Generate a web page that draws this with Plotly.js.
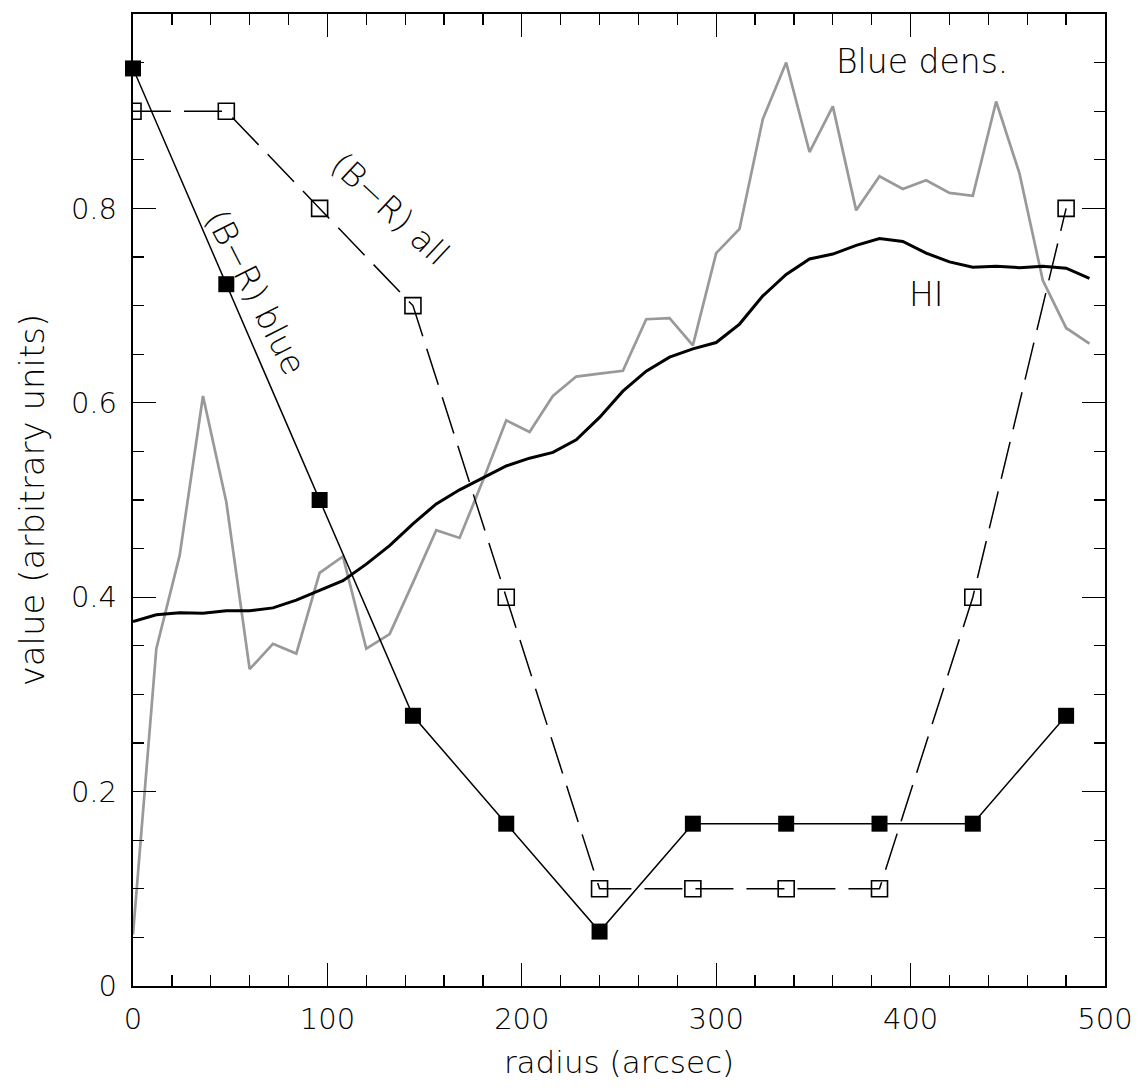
<!DOCTYPE html>
<html>
<head>
<meta charset="utf-8">
<script src="https://cdn.plot.ly/plotly-3.0.1.min.js"></script>
<style>html,body{margin:0;padding:0;background:#fff;}#chart{width:1146px;height:1090px;}</style>
</head>
<body>
<div id="chart"></div>
<script>
// (B-R) colour profiles, sampled every 48 arcsec
const radiusBR = [0, 48, 96, 144, 192, 240, 288, 336, 384, 432, 480];
const brBlue = [0.944, 0.722, 0.5, 0.278, 0.167, 0.056, 0.167, 0.167, 0.167, 0.167, 0.278];
const brAll = [0.9, 0.9, 0.8, 0.7, 0.4, 0.1, 0.1, 0.1, 0.1, 0.4, 0.8];

// Radial profiles, sampled every 12 arcsec
const radiusProf = [0, 12, 24, 36, 48, 60, 72, 84, 96, 108, 120, 132, 144, 156, 168, 180, 192, 204, 216, 228, 240,
  252, 264, 276, 288, 300, 312, 324, 336, 348, 360, 372, 384, 396, 408, 420, 432, 444, 456, 468, 480, 492];
const blueDens = [0.053, 0.347, 0.443, 0.607, 0.498, 0.326, 0.352, 0.342, 0.425, 0.442, 0.347, 0.362, 0.415, 0.469,
  0.461, 0.52, 0.582, 0.570, 0.607, 0.627, 0.630, 0.633, 0.686, 0.687, 0.659, 0.754, 0.779, 0.892, 0.950, 0.858,
  0.905, 0.798, 0.833, 0.820, 0.829, 0.816, 0.813, 0.910, 0.836, 0.726, 0.677, 0.661];
const hiProf = [0.375, 0.382, 0.384, 0.3835, 0.386, 0.386, 0.389, 0.397, 0.407, 0.417, 0.434, 0.453, 0.4755, 0.496,
  0.5105, 0.523, 0.535, 0.543, 0.549, 0.562, 0.585, 0.612, 0.6325, 0.647, 0.6555, 0.662, 0.681, 0.710, 0.732, 0.748,
  0.753, 0.762, 0.769, 0.766, 0.754, 0.745, 0.7395, 0.7405, 0.739, 0.7405, 0.7385, 0.728];

const xTickVals = [0, 100, 200, 300, 400, 500];
const xTickText = ['0', '100', '200', '300', '400', '500'];
const yTickVals = [0, 0.2, 0.4, 0.6, 0.8, 1];
const yTickText = ['0', '0.2', '0.4', '0.6', '0.8', '1'];

const FONT = '"DejaVu Sans", sans-serif';
const W = 200;

const traces = [
  {x: radiusProf, y: blueDens, mode: 'lines', line: {color: '#999999', width: 2.7}, cliponaxis: true},
  {x: radiusProf, y: hiProf, mode: 'lines', line: {color: '#000000', width: 3}, cliponaxis: true},
  {x: radiusBR, y: brAll, mode: 'lines+markers', cliponaxis: true,
   line: {color: '#000000', width: 1.5, dash: '38px,13px'},
   marker: {symbol: 'square-open', size: 16, color: '#000000', line: {width: 1.6, color: '#000000'}}},
  {x: radiusBR, y: brBlue, mode: 'lines+markers', cliponaxis: false,
   line: {color: '#000000', width: 1.5},
   marker: {symbol: 'square', size: 16, color: '#000000'}}
];

const axisCommon = {
  showgrid: false, zeroline: false, showline: true, linecolor: '#000', linewidth: 2.2,
  mirror: 'allticks', ticks: 'inside', ticklen: 23, tickwidth: 1.3, tickcolor: '#000',
  tickfont: {family: FONT, size: 29, color: '#000', weight: W},
  tickmode: 'array'
};

const layout = {
  width: 1146, height: 1090,
  margin: {l: 133, r: 41, t: 14, b: 104},
  paper_bgcolor: '#fff', plot_bgcolor: '#fff',
  showlegend: false,
  font: {family: FONT, color: '#000'},
  xaxis: Object.assign({}, axisCommon, {
    range: [0, 500], tickvals: xTickVals, ticktext: xTickText, ticklabelstandoff: 6,
    minor: {tickvals: [20,40,60,80,120,140,160,180,220,240,260,280,320,340,360,380,420,440,460,480],
            ticks: 'inside', ticklen: 11, tickwidth: 1.3, tickcolor: '#000'},
    title: {text: 'radius (arcsec)', font: {family: FONT, size: 31, color: '#000', weight: W}, standoff: 16}
  }),
  yaxis: Object.assign({}, axisCommon, {
    range: [0, 1], tickvals: yTickVals, ticktext: yTickText, ticklabelstandoff: 8,
    minor: {tickvals: [0.05,0.1,0.15,0.25,0.3,0.35,0.45,0.5,0.55,0.65,0.7,0.75,0.85,0.9,0.95],
            ticks: 'inside', ticklen: 11, tickwidth: 1.3, tickcolor: '#000'},
    title: {text: 'value (arbitrary units)', font: {family: FONT, size: 34, color: '#000', weight: W}, standoff: 16}
  }),
  annotations: [
    {x: 406, y: 0.951, xref: 'x', yref: 'y', text: 'Blue dens.', showarrow: false,
     font: {family: FONT, size: 33, color: '#000', weight: W}},
    {x: 408.4, y: 0.711, xref: 'x', yref: 'y', text: 'HI', showarrow: false,
     font: {family: FONT, size: 33, color: '#000', weight: W}},
    {x: 132.2, y: 0.8, xref: 'x', yref: 'y', text: '(B\u2212R) all', showarrow: false, textangle: 43,
     font: {family: FONT, size: 33, color: '#000', weight: W}},
    {x: 63, y: 0.713, xref: 'x', yref: 'y', text: '(B\u2212R) blue', showarrow: false, textangle: 63,
     font: {family: FONT, size: 33, color: '#000', weight: W}}
  ]
};

Plotly.newPlot('chart', traces, layout, {displayModeBar: false, staticPlot: true});
</script>
</body>
</html>
